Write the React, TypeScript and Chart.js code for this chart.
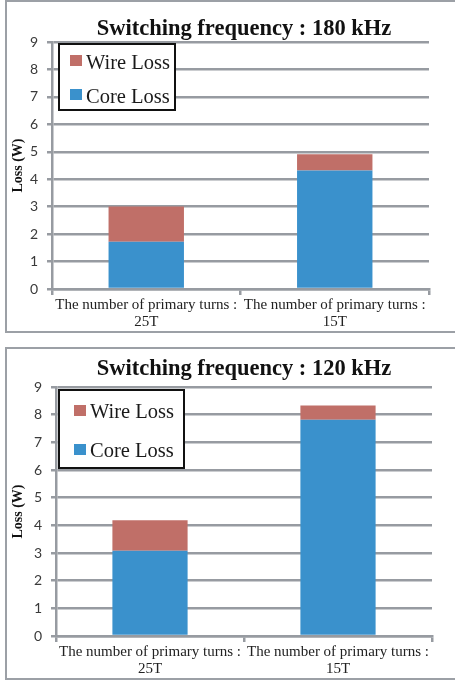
import React, { useEffect, useRef } from "react";
import { Chart, registerables } from "chart.js";

Chart.register(...registerables);

// Category labels (two lines each) and loss values in watts
const categories: string[][] = [
  ["The number of primary turns :", "25T"],
  ["The number of primary turns :", "15T"],
];
const coreLoss180 = [1.72, 4.32];
const wireLoss180 = [1.29, 0.59];
const coreLoss120 = [3.08, 7.82];
const wireLoss120 = [1.1, 0.51];
const yMin = 0;
const yMax = 9;
const yStep = 1;

const WIRE_COLOR = "#C06F68";
const CORE_COLOR = "#3A91CC";
const GRID_COLOR = "#979ba1";
const SERIF = "'Liberation Serif', 'Times New Roman', serif";
const SANS = "Lato, 'Open Sans', sans-serif";

type Layout = {
  padTop: number;
  padRight: number;
  yWidth: number;
  xHeight: number;
  titleDx: number;
  titleDy: number;
  legendDx: number;
  legendDy: number;
  legendW: number;
  legendH: number;
  rowTops: number[];
  textDy: number;
};

// Title above the plot and boxed legend drawn inside the plot area
const overlayPlugin = {
  id: "overlay",
  afterDraw(chart: any, _args: any, opts: any) {
    const { ctx, chartArea } = chart;
    const lay: Layout = opts.layout;
    ctx.save();
    ctx.fillStyle = "#111";
    ctx.font = `bold 22.5px ${SERIF}`;
    ctx.textAlign = "center";
    ctx.textBaseline = "alphabetic";
    ctx.fillText(
      opts.title,
      (chartArea.left + chartArea.right) / 2 + lay.titleDx,
      chartArea.top + lay.titleDy
    );

    const bx = chartArea.left + lay.legendDx;
    const by = chartArea.top + lay.legendDy;
    ctx.fillStyle = "#fff";
    ctx.fillRect(bx, by, lay.legendW, lay.legendH);
    ctx.strokeStyle = "#111";
    ctx.lineWidth = 2;
    ctx.strokeRect(bx, by, lay.legendW, lay.legendH);

    // legend lists the top segment first
    const items = [...chart.data.datasets].reverse();
    ctx.font = `20.5px ${SERIF}`;
    ctx.textAlign = "left";
    items.forEach((ds: any, i: number) => {
      const sy = chartArea.top + lay.rowTops[i];
      ctx.fillStyle = ds.backgroundColor;
      ctx.fillRect(chartArea.left + 18, sy, 12, 11);
      ctx.fillStyle = "#1a1a1a";
      ctx.fillText(ds.label, chartArea.left + 34, sy + 5.5 + lay.textDy);
    });
    ctx.restore();
  },
};

function LossChart(props: {
  title: string;
  core: number[];
  wire: number[];
  layout: Layout;
}) {
  const ref = useRef<HTMLCanvasElement>(null);
  useEffect(() => {
    if (!ref.current) return;
    const lay = props.layout;
    const chart = new Chart(ref.current, {
      type: "bar",
      data: {
        labels: categories,
        datasets: [
          {
            label: "Core Loss",
            data: props.core,
            backgroundColor: CORE_COLOR,
            barPercentage: 0.4,
            categoryPercentage: 1,
          },
          {
            label: "Wire Loss",
            data: props.wire,
            backgroundColor: WIRE_COLOR,
            barPercentage: 0.4,
            categoryPercentage: 1,
          },
        ],
      },
      options: {
        responsive: false,
        animation: false,
        devicePixelRatio: 1,
        layout: {
          padding: { top: lay.padTop, right: lay.padRight, left: 0, bottom: 0 },
        },
        plugins: {
          legend: { display: false },
          title: { display: false },
          tooltip: { enabled: false },
          overlay: { title: props.title, layout: lay },
        } as any,
        scales: {
          x: {
            stacked: true,
            grid: {
              offset: true,
              drawOnChartArea: false,
              drawTicks: true,
              tickLength: 6,
              color: GRID_COLOR,
              lineWidth: 2.5,
            },
            border: { display: true, color: GRID_COLOR, width: 2.5 },
            ticks: {
              autoSkip: false,
              maxRotation: 0,
              minRotation: 0,
              padding: 1,
              color: "#222",
              font: { family: SERIF, size: 15, lineHeight: 1.15 },
            },
            afterFit: (scale: any) => {
              scale.height = lay.xHeight;
            },
          },
          y: {
            stacked: true,
            min: yMin,
            max: yMax,
            grid: {
              color: GRID_COLOR,
              lineWidth: 2.5,
              drawTicks: true,
              tickLength: 5,
            },
            border: { display: true, color: GRID_COLOR, width: 2.5 },
            ticks: {
              stepSize: yStep,
              padding: 9,
              color: "#3a3a3a",
              font: { family: SANS, size: 14 },
            },
            title: {
              display: true,
              text: "Loss (W)",
              color: "#111",
              padding: { top: 3, bottom: 0 },
              font: { family: SERIF, size: 14, weight: "bold" },
            },
            afterFit: (scale: any) => {
              scale.width = lay.yWidth;
            },
          },
        },
      },
      plugins: [overlayPlugin],
    });
    return () => chart.destroy();
  }, []);
  return <canvas ref={ref} width={448} height={329} style={{ display: "block" }} />;
}

const boxStyle = (top: number): React.CSSProperties => ({
  position: "absolute",
  left: 5,
  top,
  width: 450,
  height: 333,
  border: "2px solid #9ca0a6",
  borderRight: "none",
  boxSizing: "border-box",
  background: "#fff",
});

const layout180: Layout = {
  padTop: 40,
  padRight: 26,
  yWidth: 45,
  xHeight: 42,
  titleDx: 3.5,
  titleDy: -7,
  legendDx: 7,
  legendDy: 2,
  legendW: 116,
  legendH: 66,
  rowTops: [13, 47],
  textDy: 8.5,
};

const layout120: Layout = {
  padTop: 38,
  padRight: 23,
  yWidth: 49,
  xHeight: 42,
  titleDx: 0,
  titleDy: -12,
  legendDx: 3,
  legendDy: 3,
  legendW: 125,
  legendH: 78,
  rowTops: [18, 57],
  textDy: 7.5,
};

export default function App() {
  return (
    <div>
      <div style={boxStyle(0)}>
        <LossChart
          title="Switching frequency : 180 kHz"
          core={coreLoss180}
          wire={wireLoss180}
          layout={layout180}
        />
      </div>
      <div style={boxStyle(347)}>
        <LossChart
          title="Switching frequency : 120 kHz"
          core={coreLoss120}
          wire={wireLoss120}
          layout={layout120}
        />
      </div>
    </div>
  );
}
